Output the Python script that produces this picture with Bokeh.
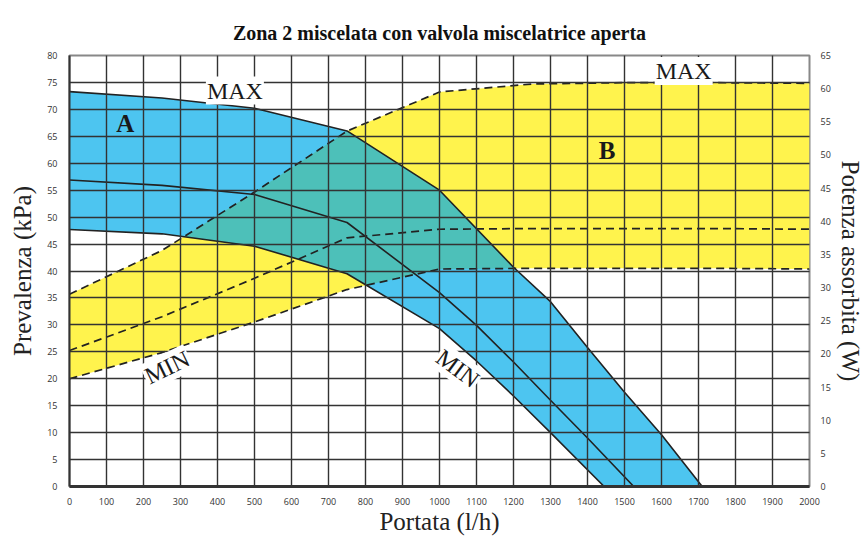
import numpy as np
from bokeh.plotting import figure
from bokeh.models import Range1d, LinearAxis, SingleIntervalTicker, Label
from bokeh.embed import file_html
from bokeh.resources import INLINE

# ---- data ----
# pump curves (Prevalenza, kPa) vs Portata (l/h)
x_max = [0, 250, 500, 750, 1000, 1200, 1300, 1400, 1500, 1600, 1710]
y_max = [73.3, 72.1, 70.2, 66.0, 55.0, 40.7, 34.3, 25.8, 17.5, 9.6, 0]
x_mid = [0, 250, 500, 750, 1000, 1100, 1200, 1300, 1400, 1525]
y_mid = [56.9, 55.9, 54.2, 49.0, 36.0, 29.9, 23.1, 16.0, 9.0, 0]
x_min = [0, 250, 500, 750, 1000, 1100, 1200, 1300, 1445]
y_min = [47.7, 46.9, 44.6, 39.5, 29.3, 23.3, 16.8, 10.0, 0]

# power curves (Potenza assorbita, W)
x_pow = [0, 250, 500, 750, 1000, 1250, 1500, 1750, 2000]
p_max = [29.0, 35.6, 44.4, 53.6, 59.5, 60.7, 60.9, 60.9, 60.8]
p_mid = [20.5, 25.6, 31.4, 37.5, 38.8, 38.9, 38.9, 38.9, 38.8]
p_min = [16.25, 20.2, 24.8, 29.7, 32.8, 32.9, 32.9, 32.9, 32.8]

title_text = "Zona 2 miscelata con valvola miscelatrice aperta"
x_label = "Portata (l/h)"
y_label = "Prevalenza (kPa)"
y2_label = "Potenza assorbita (W)"

KPA_MAX = 80
W_MAX = 65

# annotation texts: (text, x, y, angle, bold, background)
notes = [
    ("MAX", 447, 73.5, 0.0, False, True),
    ("MAX", 1660, 77.1, 0.0, False, True),
    ("MIN", 264, 22.1, 0.45, False, True),
    ("MIN", 1049, 21.9, -0.64, False, True),
    ("A", 151, 67.3, 0.0, True, False),
    ("B", 1453, 62.3, 0.0, True, False),
]

SERIF = "Liberation Serif"
SANS = "Open Sans"
BLUE = "#4DC5F0"
YELLOW = "#FFF34D"
TEAL = "#4DC0B9"
INK = "#222222"

p = figure(width=866, height=537, x_range=Range1d(0, 2000), y_range=Range1d(0, KPA_MAX),
           output_backend="svg", toolbar_location=None,
           min_border_left=69, min_border_right=55, min_border_top=55, min_border_bottom=51)
p.extra_y_ranges = {"w": Range1d(0, W_MAX)}

p.title.text = title_text
p.title.align = "center"
p.title.text_font = SERIF
p.title.text_font_size = "20px"
p.title.text_font_style = "bold"
p.title.text_color = "#111111"
p.title.standoff = 24

# yellow band (power)
p.varea(x=x_pow, y1=p_min, y2=p_max, fill_color=YELLOW, y_range_name="w")
# blue band (pump)
px = list(x_max) + list(x_min)[::-1]
py = list(y_max) + list(y_min)[::-1]
p.patch(px, py, fill_color=BLUE, line_color=None)

# overlap region (teal)
k = KPA_MAX / W_MAX
xs = np.linspace(0, 2000, 4001)
b_top = np.interp(xs, x_max, y_max, right=0)
b_bot = np.interp(xs, x_min, y_min, right=0)
y_lo = np.interp(xs, x_pow, np.array(p_min) * k)
y_hi = np.interp(xs, x_pow, np.array(p_max) * k)
o_lo = np.maximum(b_bot, y_lo)
o_hi = np.minimum(b_top, y_hi)
o_hi = np.where(o_hi > o_lo, o_hi, o_lo)
p.varea(x=xs, y1=o_lo, y2=o_hi, fill_color=TEAL)

# curve lines
for xx, yy in ((x_max, y_max), (x_mid, y_mid), (x_min, y_min)):
    p.line(xx, yy, line_color=INK, line_width=1.6)
for yy in (p_max, p_mid, p_min):
    p.line(x_pow, yy, line_color=INK, line_width=1.7, line_dash="8 5", y_range_name="w")

# axes
p.xaxis.ticker = SingleIntervalTicker(interval=100)
p.yaxis.ticker = SingleIntervalTicker(interval=5)
for ax in (p.xaxis[0], p.yaxis[0]):
    ax.major_tick_line_color = None
    ax.minor_tick_line_color = None
    ax.major_label_text_font = SANS
    ax.major_label_text_font_size = "9px"
    ax.major_label_text_color = "#333333"
    ax.axis_label_text_font = SERIF
    ax.axis_label_text_font_size = "25px"
    ax.axis_label_text_font_style = "normal"
    ax.axis_label_text_color = "#222222"
    ax.major_label_standoff = 6
    ax.axis_label_standoff = 3
p.xaxis.axis_label = x_label
p.yaxis.axis_label = y_label
p.yaxis.axis_label_standoff = 8
p.xaxis.major_label_standoff = 5
p.xaxis.axis_label_standoff = 0
p.xaxis.axis_line_width = 3
p.xaxis.axis_line_color = "#333333"
p.yaxis.axis_line_width = 2
p.yaxis.axis_line_color = "#333333"

ax2 = LinearAxis(y_range_name="w", ticker=SingleIntervalTicker(interval=5), axis_label=y2_label)
ax2.major_tick_line_color = None
ax2.minor_tick_line_color = None
ax2.axis_line_color = None
ax2.major_label_text_font = SANS
ax2.major_label_text_font_size = "9px"
ax2.major_label_text_color = "#333333"
ax2.axis_label_text_font = SERIF
ax2.axis_label_text_font_size = "25px"
ax2.axis_label_text_font_style = "normal"
ax2.axis_label_text_color = "#222222"
ax2.major_label_standoff = 5
ax2.axis_label_standoff = 3
p.add_layout(ax2, "right")

p.outline_line_color = "#888888"
p.outline_line_width = 2

# grid above fills
for g in (p.xgrid[0], p.ygrid[0]):
    g.grid_line_color = "#333333"
    g.grid_line_width = 1.4
    g.grid_line_alpha = 1.0
    g.level = "guide"
p.xgrid.ticker = SingleIntervalTicker(interval=100)
p.ygrid.ticker = SingleIntervalTicker(interval=5)

for txt, x, y, ang, bold, bg in notes:
    lab = Label(x=x, y=y, text=txt, angle=ang, text_font=SERIF,
                text_font_size="25px" if bold else "24px",
                text_font_style="bold" if bold else "normal",
                text_color="#1a1a1a", text_align="center", text_baseline="middle")
    if bg:
        lab.background_fill_color = "white"
        lab.padding = 1
    p.add_layout(lab)

open("out.html", "w").write(file_html(p, INLINE))
